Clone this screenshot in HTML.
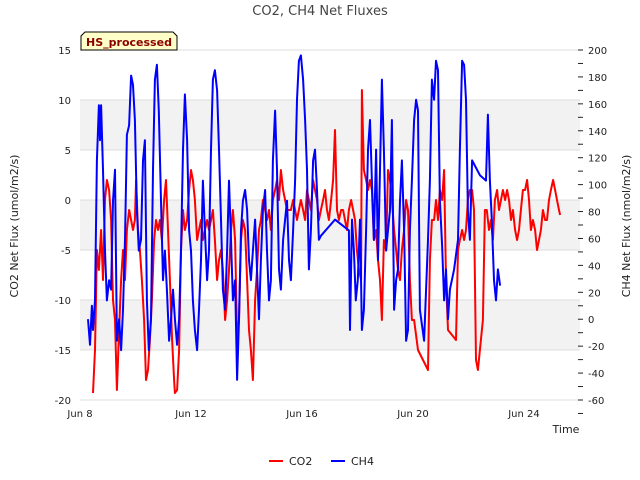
<!DOCTYPE html>
<html><head><meta charset="utf-8"><style>
html,body{margin:0;padding:0;background:#fff;}
svg{display:block;font-family:"DejaVu Sans","Liberation Sans",sans-serif;}
</style></head><body>
<svg id="chart" width="640" height="480" viewBox="0 0 640 480">
<text x="320" y="15" text-anchor="middle" font-size="13" fill="#444">CO2, CH4 Net Fluxes</text>
<g id="bands"></g><g id="grid"></g>
<g id="series"></g>
<g id="axes"></g>
<g><path d="M81,50 L81,36 L85,32 L173,32 L177,36 L177,50 Z" fill="#ffffc8" stroke="#000" stroke-width="1"/><text x="129" y="46" text-anchor="middle" font-size="11" font-weight="bold" fill="#8b0000">HS_processed</text></g>
<text transform="translate(18,226) rotate(-90)" text-anchor="middle" font-size="11" fill="#222">CO2 Net Flux (umol/m2/s)</text>
<text transform="translate(630,226) rotate(-90)" text-anchor="middle" font-size="11" fill="#222">CH4 Net Flux (nmol/m2/s)</text>
<text x="566" y="433" text-anchor="middle" font-size="11" fill="#222">Time</text>
<g>
<g><line x1="269" y1="461" x2="283" y2="461" stroke="#f00" stroke-width="2"/><text x="289" y="465" font-size="11" fill="#222">CO2</text></g>
<g><line x1="331" y1="461" x2="345" y2="461" stroke="#00f" stroke-width="2"/><text x="351" y="465" font-size="11" fill="#222">CH4</text></g>
</g>
</svg>
<script>
const xTickDays=[8,12,16,20,24];
const xTickLabels=["Jun 8","Jun 12","Jun 16","Jun 20","Jun 24"];
const leftTicks=[15,10,5,0,-5,-10,-15,-20];
const rightTicks=[200,180,160,140,120,100,80,60,40,20,0,-20,-40,-60];
const co2T=[8.47,8.54,8.61,8.68,8.76,8.83,8.90,8.97,9.05,9.12,9.19,9.26,9.33,9.41,9.48,9.55,9.62,9.69,9.77,9.84,9.91,9.98,10.02,10.09,10.16,10.23,10.31,10.38,10.45,10.52,10.59,10.67,10.74,10.81,10.88,10.95,11.03,11.10,11.17,11.24,11.32,11.39,11.42,11.50,11.57,11.64,11.71,11.78,11.86,11.93,12.00,12.07,12.14,12.22,12.29,12.36,12.43,12.50,12.58,12.65,12.72,12.79,12.86,12.94,13.01,13.08,13.15,13.23,13.30,13.37,13.44,13.51,13.59,13.66,13.73,13.80,13.87,13.95,14.02,14.09,14.16,14.23,14.31,14.38,14.45,14.52,14.59,14.67,14.74,14.81,14.88,14.95,15.03,15.10,15.17,15.24,15.32,15.39,15.46,15.53,15.60,15.68,15.75,15.82,15.89,15.96,16.04,16.11,16.18,16.25,16.32,16.40,16.47,16.54,16.61,16.68,16.76,16.83,16.90,16.97,17.05,17.12,17.19,17.26,17.33,17.41,17.48,17.55,17.62,17.69,17.77,17.84,17.91,17.98,18.05,18.13,18.16,18.23,18.31,18.38,18.45,18.52,18.59,18.67,18.74,18.81,18.88,18.95,19.03,19.10,19.17,19.24,19.32,19.39,19.46,19.53,19.60,19.68,19.75,19.82,19.89,19.96,20.04,20.18,20.54,20.61,20.68,20.76,20.83,20.90,20.97,21.05,21.12,21.19,21.26,21.55,21.62,21.69,21.77,21.84,21.91,21.98,22.05,22.13,22.20,22.27,22.34,22.52,22.59,22.66,22.74,22.81,22.88,22.95,23.03,23.10,23.17,23.24,23.32,23.39,23.46,23.53,23.60,23.68,23.75,23.82,23.89,23.96,24.04,24.11,24.18,24.25,24.32,24.40,24.47,24.54,24.61,24.68,24.76,24.83,24.90,24.97,25.05,25.12,25.19,25.26,25.30];
const co2V=[-19.3,-15,-5,-7,-3,-8,0,2,1,-2,-10,-12,-19,-13,-8,-5,-8,-3,-1,-2,-3,-2,2,-3,-5,-8,-12,-18,-17,-14,-10,-4,-2,-3,-2,-4,0,2,-3,-8,-14,-18,-19.3,-19,-15,-5,-1,-3,-2,1,3,2,0,-4,-3,-2,-4,-3,-2,-3,-2,-1,-4,-8,-6,-5,-7,-12,-10,-7,-3,-1,-4,-14,-12,-4,-2,-3,-8,-13,-15,-18,-10,-7,-3,-2,0,-1,-2,-1,-3,0,1,2,0,3,1,0,-1,-1,-1,0,-1,-2,-1,0,-1,-2,1,0,-1,2,1,0,-2,-1,0,1,-1,-2,0,2,7,-1,-2,-1,-1,-2,-3,-1,0,-1,-2,-5,-7,-8,11,3,2,1,2,1,-4,-3,-6,-8,-12,-4,-5,3,2,0,-3,-5,-7,-8,-5,-3,0,-1,-8,-12,-12,-15,-17,-6,-2,-2,0,-2,1,0,3,-8,-13,-14,-5,-4,-3,-4,-3,0,1,1,-1,-16,-17,-12,-1,-1,-3,-2,-4,0,1,-1,0,1,0,1,0,-2,-1,-3,-4,-3,-1,1,1,2,0,-3,-2,-3,-5,-4,-3,-1,-2,-2,0,1,2,1,0,-1,-1.5];
const ch4T=[8.29,8.36,8.43,8.47,8.54,8.61,8.68,8.72,8.76,8.83,8.90,8.97,9.05,9.12,9.19,9.26,9.33,9.41,9.48,9.55,9.62,9.69,9.77,9.84,9.91,9.98,10.05,10.12,10.20,10.27,10.34,10.41,10.48,10.56,10.63,10.70,10.77,10.84,10.92,10.99,11.06,11.13,11.21,11.28,11.35,11.42,11.50,11.57,11.64,11.71,11.78,11.86,11.93,12.00,12.07,12.14,12.22,12.29,12.36,12.43,12.50,12.58,12.65,12.72,12.79,12.86,12.94,13.01,13.08,13.15,13.23,13.30,13.37,13.44,13.51,13.59,13.66,13.73,13.80,13.87,13.95,14.02,14.09,14.16,14.23,14.31,14.38,14.45,14.52,14.59,14.67,14.74,14.81,14.88,14.95,15.03,15.10,15.17,15.24,15.32,15.39,15.46,15.53,15.60,15.68,15.75,15.82,15.89,15.96,16.04,16.11,16.18,16.25,16.32,16.40,16.47,16.54,16.61,16.68,17.19,17.69,17.73,17.80,17.87,17.94,18.01,18.09,18.16,18.23,18.31,18.38,18.45,18.52,18.59,18.67,18.74,18.81,18.88,18.95,19.03,19.10,19.17,19.24,19.32,19.39,19.46,19.53,19.60,19.68,19.75,19.82,19.89,19.96,20.04,20.11,20.18,20.25,20.40,20.54,20.61,20.68,20.76,20.83,20.90,20.97,21.05,21.12,21.19,21.26,21.33,21.48,21.62,21.69,21.77,21.84,21.91,21.98,22.05,22.13,22.41,22.63,22.70,22.77,22.84,22.92,22.99,23.06,23.14];
const ch4V=[0,-19,10,-8,14,118,159,133,159,111,51,14,29,22,88,111,-16,0,-23,7,59,137,144,181,174,148,81,51,59,118,133,14,-23,0,111,178,189,155,88,29,51,22,-16,0,22,0,-19,0,51,126,167,133,66,51,14,-8,-23,7,44,103,66,29,51,126,178,185,170,126,74,22,7,51,103,59,14,29,-45,0,66,88,96,81,44,29,51,74,37,0,44,81,96,51,14,29,118,155,111,37,22,59,74,88,44,29,66,103,163,192,196,178,148,111,37,66,118,126,96,59,62,74,66,-8,74,51,14,29,74,-8,7,66,126,148,103,59,126,44,111,178,126,51,66,81,148,7,29,37,88,118,66,-16,-8,66,103,148,163,155,7,-16,59,103,178,163,192,185,88,55,14,37,0,22,37,59,126,192,189,163,81,59,118,107,103,152,103,74,29,14,37,25];

const NS="http://www.w3.org/2000/svg";
const X0=80,X1=580,Y0=50,Y1=400;
function xS(d){return X0+(d-8)*27.75;}
function yL(v){return Y0+(15-v)*(Y1-Y0)/35;}
function yR(v){return Y0+(200-v)*(Y1-Y0)/260;}
function mk(tag,attrs,parent){const e=document.createElementNS(NS,tag);for(const k in attrs)e.setAttribute(k,attrs[k]);parent.appendChild(e);return e;}
const bands=document.getElementById('bands'),grid=document.getElementById('grid'),axes=document.getElementById('axes'),series=document.getElementById('series');
[[10,5],[0,-5],[-10,-15]].forEach(b=>{
  const r=mk('rect',{x:X0,y:yL(b[0]),width:X1-X0,height:yL(b[1])-yL(b[0]),fill:'#f2f2f2'},bands);
  
  
});
leftTicks.forEach(v=>{
  const l=mk('line',{x1:X0,x2:X1,y1:yL(v),y2:yL(v),stroke:'#dcdcdc','stroke-width':1},grid);
  
  
  const t=mk('text',{x:X0-9,y:yL(v)+4,'text-anchor':'end','font-size':10,fill:'#222'},axes);
  t.textContent=v;
  
  
});
rightTicks.forEach(v=>{
  const t=mk('text',{x:X1+8,y:yR(v)+4,'font-size':10,fill:'#222'},axes);
  t.textContent=v;
  
  
  mk('line',{x1:X1-2,x2:X1+3,y1:yR(v),y2:yR(v),stroke:'#222'},axes);
  mk('line',{x1:X1-2,x2:X1+3,y1:yR(v-10),y2:yR(v-10),stroke:'#222'},axes);
});
xTickDays.forEach((d,i)=>{
  const t=mk('text',{x:xS(d),y:Y1+17,'text-anchor':'middle','font-size':10,fill:'#222'},axes);
  t.textContent=xTickLabels[i];
  
  
});
function line(T,V,ys,color,name){
  const d=T.map((t,i)=>(i?'L':'M')+xS(t).toFixed(1)+','+ys(V[i]).toFixed(1)).join('');
  const p=mk('path',{d:d,fill:'none',stroke:color,'stroke-width':2,'stroke-linejoin':'round'},series);
  
  
}
line(co2T,co2V,yL,'#f00','co2-line');
line(ch4T,ch4V,yR,'#00f','ch4-line');
</script>
</body></html>
